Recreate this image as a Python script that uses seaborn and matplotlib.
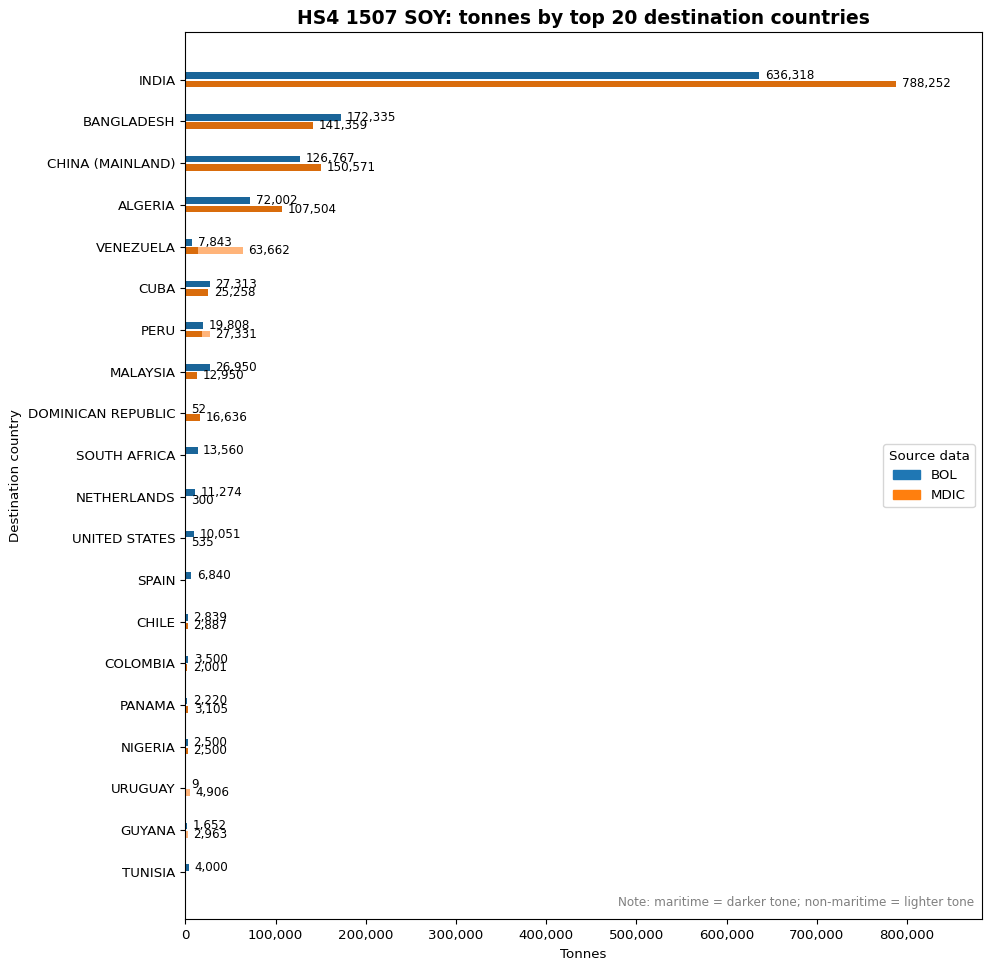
import matplotlib
matplotlib.use("Agg")
import matplotlib.pyplot as plt
from matplotlib.patches import Patch
from matplotlib.ticker import FuncFormatter
import seaborn as sns
import pandas as pd

countries = ["INDIA", "BANGLADESH", "CHINA (MAINLAND)", "ALGERIA", "VENEZUELA",
             "CUBA", "PERU", "MALAYSIA", "DOMINICAN REPUBLIC", "SOUTH AFRICA",
             "NETHERLANDS", "UNITED STATES", "SPAIN", "CHILE", "COLOMBIA",
             "PANAMA", "NIGERIA", "URUGUAY", "GUYANA", "TUNISIA"]

bol_maritime = [636318, 172335, 126767, 72002, 7843, 27313, 19808, 26950, 52, 13560,
                11274, 10051, 6840, 2839, 3500, 2220, 2500, 9, 1652, 4000]
bol_non_maritime = [0] * 20
mdic_maritime = [788252, 141359, 150571, 107504, 14500, 25258, 18800, 12950, 16636, 0,
                 300, 535, 0, 2887, 2001, 3105, 2500, 0, 0, 0]
mdic_non_maritime = [0, 0, 0, 0, 49162, 0, 8531, 0, 0, 0,
                     0, 0, 0, 0, 0, 0, 0, 4906, 2963, 0]

sources = ["BOL", "MDIC"]
dark = {"BOL": "#1a6599", "MDIC": "#d96c0c"}
light = {"BOL": "#8fbbd9", "MDIC": "#ffb47a"}
base = {"BOL": "#1f77b4", "MDIC": "#ff7f0e"}

rows = []
for i, c in enumerate(countries):
    rows.append({"country": c, "source": "BOL", "maritime": bol_maritime[i],
                 "non_maritime": bol_non_maritime[i]})
    rows.append({"country": c, "source": "MDIC", "maritime": mdic_maritime[i],
                 "non_maritime": mdic_non_maritime[i]})
df = pd.DataFrame(rows)
df["total"] = df["maritime"] + df["non_maritime"]

fig = plt.figure(figsize=(9.91, 9.69), dpi=100)
ax = fig.add_axes([0.187, 0.0513, 0.8036, 0.9154])

# total first (lighter tone), maritime on top (darker tone)
sns.barplot(data=df, x="total", y="country", hue="source", order=countries,
            hue_order=sources, palette=light, orient="h", width=0.4, gap=0.2,
            saturation=1, legend=False, ax=ax, errorbar=None)
sns.barplot(data=df, x="maritime", y="country", hue="source", order=countries,
            hue_order=sources, palette=dark, orient="h", width=0.4, gap=0.2,
            saturation=1, legend=False, ax=ax, errorbar=None)

for i, c in enumerate(countries):
    for src, off in (("BOL", -0.1), ("MDIC", 0.1)):
        v = df.loc[(df.country == c) & (df.source == src), "total"].iloc[0]
        if v > 0:
            ax.annotate(f"{v:,.0f}", (v, i + off), xytext=(4, 0),
                        textcoords="offset points", va="center", ha="left",
                        fontsize=8.6)

ax.set_xlim(0, df["total"].max() * 1.12)
ax.set_ylim(len(countries) - 1 + 1.14, -1.14)
ax.xaxis.set_major_formatter(FuncFormatter(lambda x, p: f"{x:,.0f}"))
ax.tick_params(labelsize=9.6)
ax.set_xlabel("Tonnes", fontsize=9.6)
ax.set_ylabel("Destination country", fontsize=9.6)
ax.set_title("HS4 1507 SOY: tonnes by top 20 destination countries",
             fontsize=13.5, fontweight="bold")

handles = [Patch(color=base[s], label=s) for s in sources]
ax.legend(handles=handles, title="Source data", loc="center right", fontsize=9.6,
          title_fontsize=9.6)

ax.text(0.99, 0.012, "Note: maritime = darker tone; non-maritime = lighter tone",
        transform=ax.transAxes, ha="right", va="bottom", fontsize=8.65, color="gray")

plt.savefig("out.png", dpi=100)
